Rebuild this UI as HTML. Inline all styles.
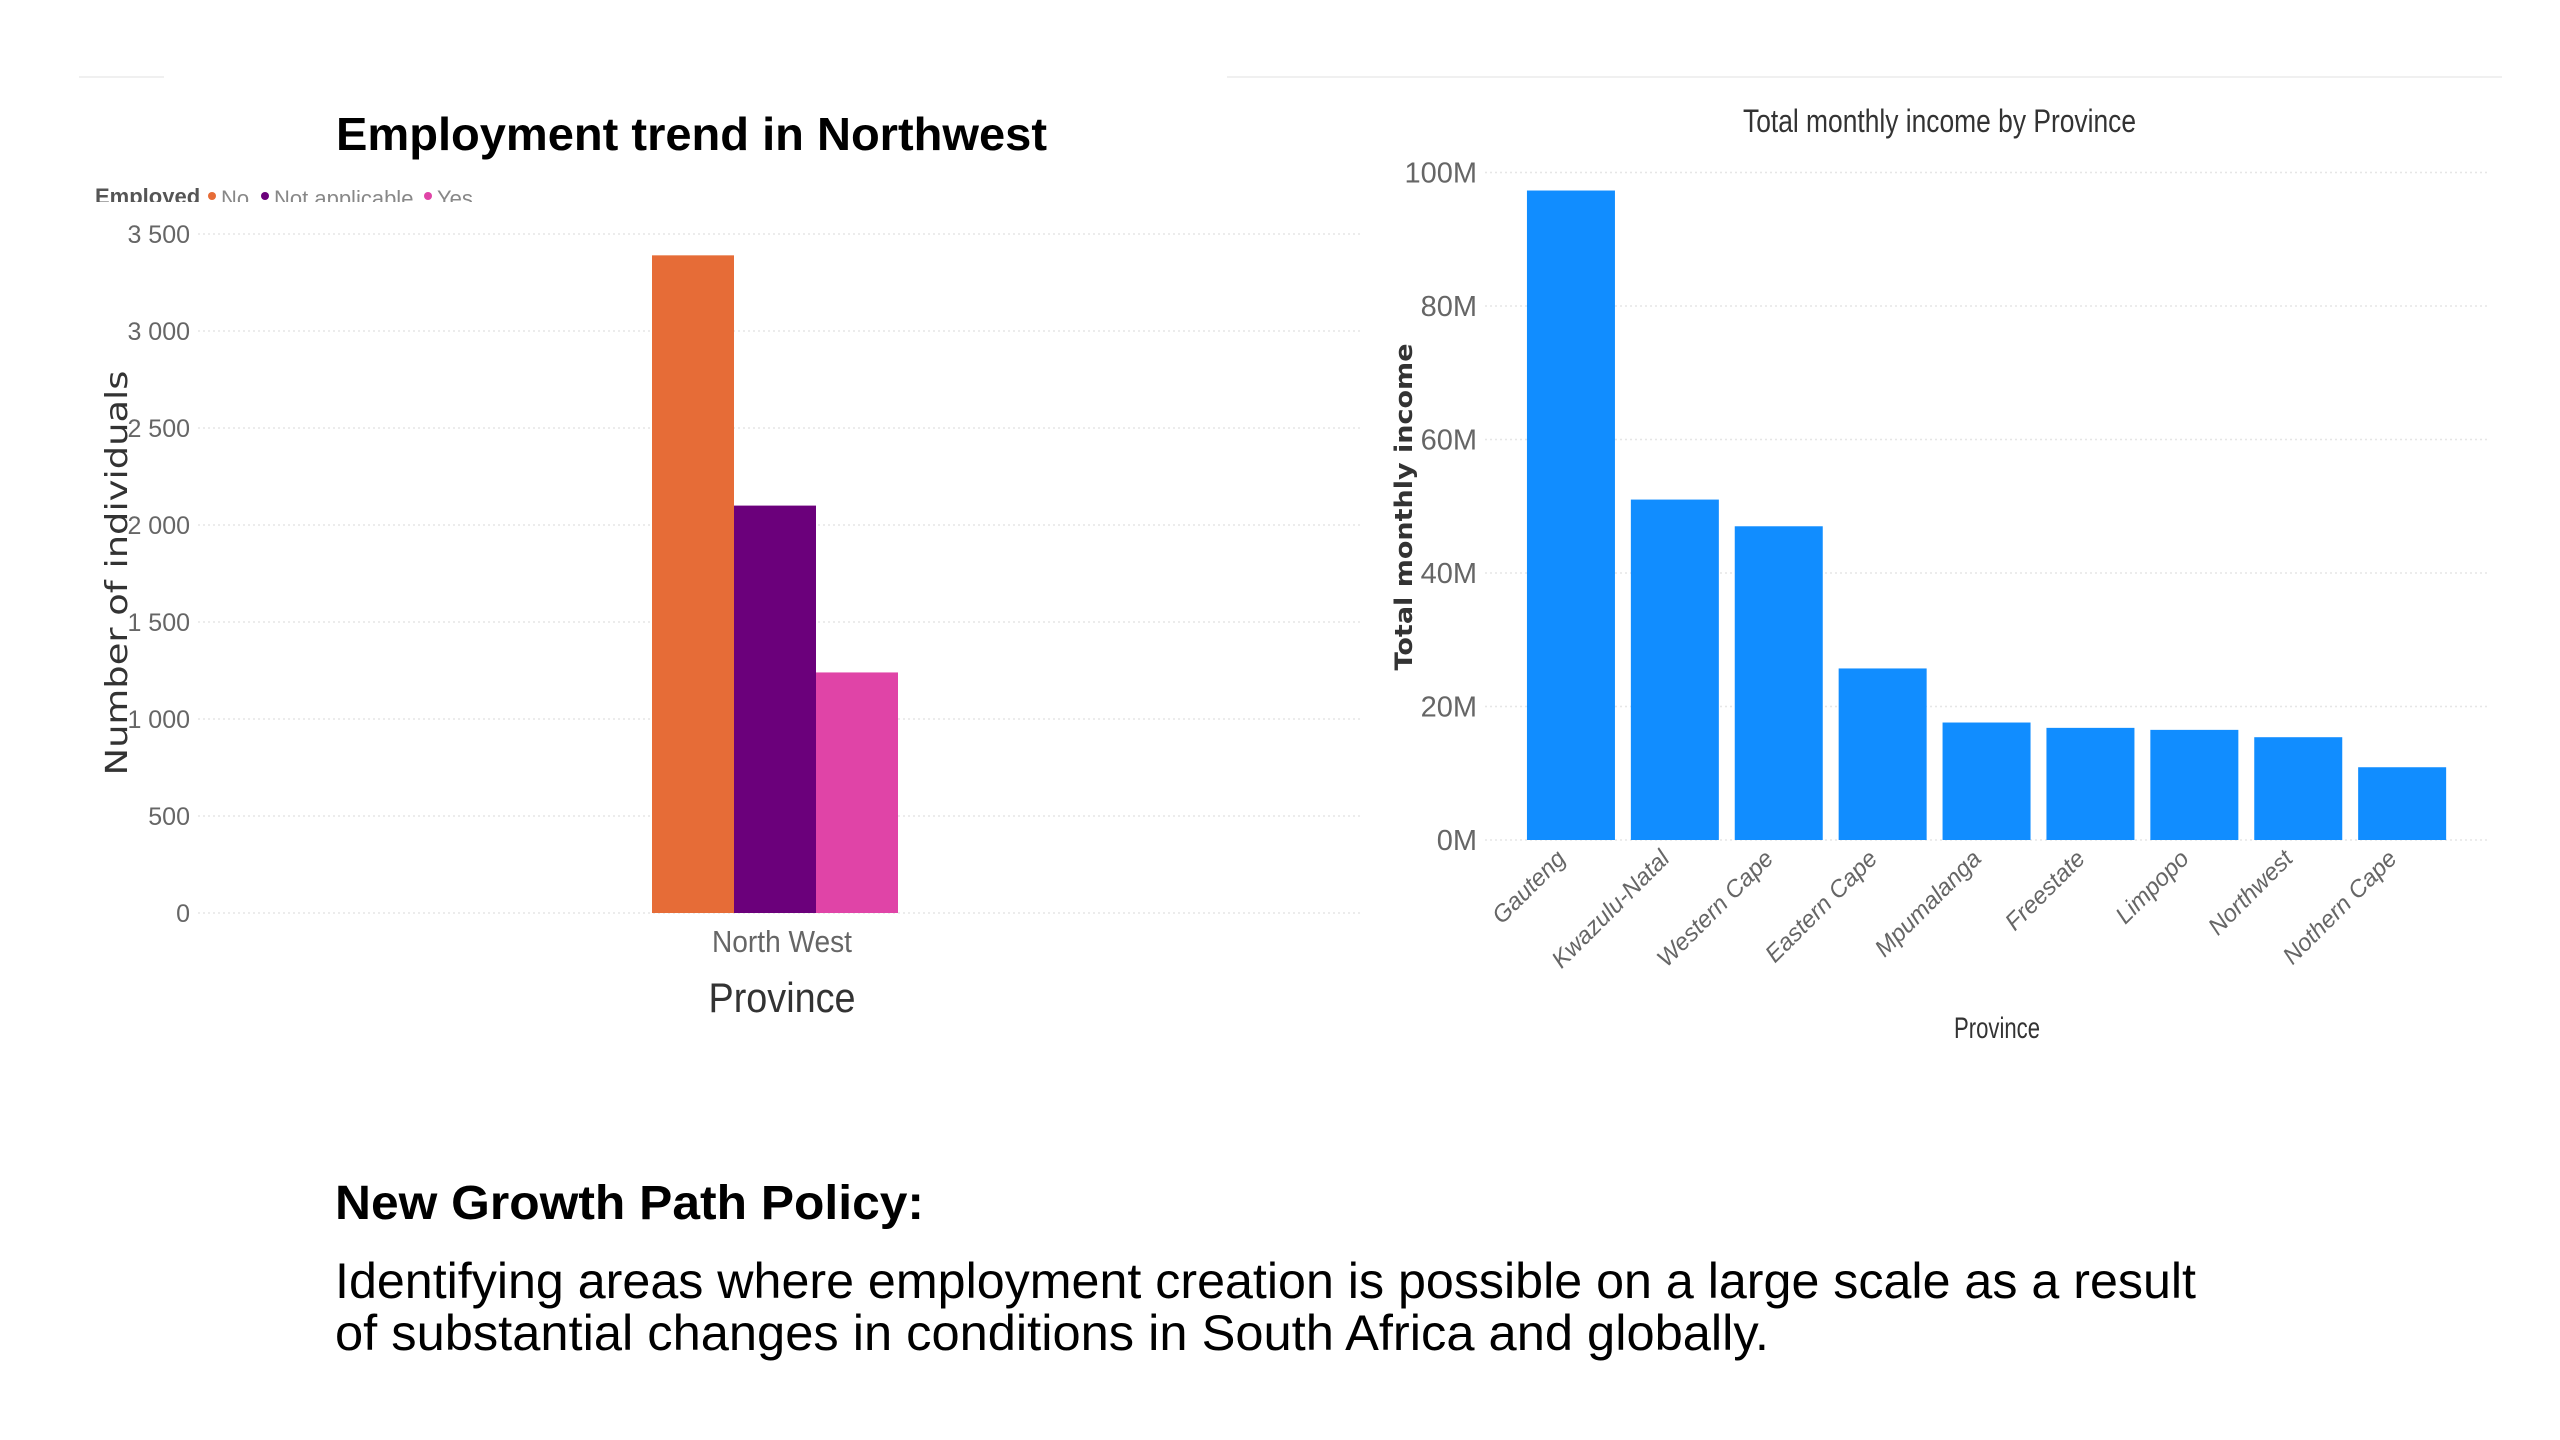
<!DOCTYPE html>
<html><head><meta charset="utf-8"><style>
html,body{margin:0;padding:0;background:#fff;}
svg{display:block;}
.tick{font-family:"Liberation Sans Narrow","Liberation Sans",sans-serif;fill:#666;}
</style></head><body>
<svg id="root" width="2560" height="1440" viewBox="0 0 2560 1440" xmlns="http://www.w3.org/2000/svg">
  <line x1="79" y1="77" x2="164" y2="77" stroke="#f0f0f0" stroke-width="2"/>
  <line x1="1227" y1="77" x2="2502" y2="77" stroke="#f0f0f0" stroke-width="2"/>

  <g id="left-chart">
    <text x="336" y="150" textLength="711" lengthAdjust="spacingAndGlyphs" font-family="Liberation Sans, sans-serif" font-weight="bold" font-size="46" fill="#000">Employment trend in Northwest</text>
    <clipPath id="legclip"><rect x="80" y="170" width="500" height="32"/></clipPath>
    <g clip-path="url(#legclip)">
      <text x="95" y="204" font-family="Liberation Sans, sans-serif" font-weight="bold" font-size="22" fill="#555">Employed</text>
      <circle cx="212" cy="196" r="4" fill="#E66C37"/>
      <text x="221" y="206" font-family="Liberation Sans, sans-serif" font-size="22" fill="#888">No</text>
      <circle cx="265" cy="196" r="4" fill="#6B007B"/>
      <text x="274" y="206" font-family="Liberation Sans, sans-serif" font-size="22" fill="#888">Not applicable</text>
      <circle cx="428" cy="196" r="4" fill="#E044A7"/>
      <text x="437" y="206" font-family="Liberation Sans, sans-serif" font-size="22" fill="#888">Yes</text>
    </g>
    <text transform="translate(127,573) rotate(-90)" text-anchor="middle" textLength="405" lengthAdjust="spacingAndGlyphs" font-family="DejaVu Sans, sans-serif" font-size="30" fill="#333">Number of individuals</text>
    <g id="lgrid"></g>
    <g id="lbars"></g>
    <text x="782" y="952" text-anchor="middle" textLength="140" lengthAdjust="spacingAndGlyphs" class="tick" font-size="31">North West</text>
    <text x="782" y="1012" text-anchor="middle" textLength="147" lengthAdjust="spacingAndGlyphs" font-family="Liberation Sans, sans-serif" font-size="42" fill="#333">Province</text>
  </g>

  <g id="right-chart">
    <text x="1743" y="132" textLength="393" lengthAdjust="spacingAndGlyphs" font-family="Liberation Sans Narrow, Liberation Sans, sans-serif" font-size="32" fill="#333">Total monthly income by Province</text>
    <text transform="translate(1412,507) rotate(-90)" text-anchor="middle" textLength="327" lengthAdjust="spacingAndGlyphs" font-family="DejaVu Sans, sans-serif" font-weight="bold" font-size="24" fill="#333">Total monthly income</text>
    <g id="rgrid"></g>
    <g id="rbars"></g>
    <g id="rlabels"></g>
    <text x="1997" y="1038" text-anchor="middle" textLength="86" lengthAdjust="spacingAndGlyphs" font-family="Liberation Sans Narrow, Liberation Sans, sans-serif" font-size="30" fill="#333">Province</text>
  </g>

  <g>
    <text x="335" y="1219" textLength="589" lengthAdjust="spacingAndGlyphs" font-family="Liberation Sans, sans-serif" font-weight="bold" font-size="48" fill="#000">New Growth Path Policy:</text>
    <text x="335" y="1298" textLength="1861" lengthAdjust="spacingAndGlyphs" font-family="Liberation Sans, sans-serif" font-size="50" fill="#000">Identifying areas where employment creation is possible on a large scale as a result</text>
    <text x="335" y="1350" textLength="1434" lengthAdjust="spacingAndGlyphs" font-family="Liberation Sans, sans-serif" font-size="50" fill="#000">of substantial changes in conditions in South Africa and globally.</text>
  </g>
</svg>
<script>
const empCategories = ["No", "Not applicable", "Yes"];
const empValues = [3390, 2100, 1240];
const empColors = ["#E66C37", "#6B007B", "#E044A7"];
const empTicks = [0, 500, 1000, 1500, 2000, 2500, 3000, 3500];
const empTickLabels = ["0", "500", "1 000", "1 500", "2 000", "2 500", "3 000", "3 500"];

const provinces = ["Gauteng", "Kwazulu-Natal", "Western Cape", "Eastern Cape", "Mpumalanga", "Freestate", "Limpopo", "Northwest", "Nothern Cape"];
const incomeValues = [97.3, 51.0, 47.0, 25.7, 17.6, 16.8, 16.5, 15.4, 10.9];
const incomeTicks = [0, 20, 40, 60, 80, 100];
const incomeTickLabels = ["0M", "20M", "40M", "60M", "80M", "100M"];

const NS = "http://www.w3.org/2000/svg";
function mk(tag, attrs, parent) {
  const e = document.createElementNS(NS, tag);
  for (const k in attrs) e.setAttribute(k, attrs[k]);
  parent.appendChild(e);
  return e;
}
// left chart axes
const lY = v => 913 - v / 3500 * (913 - 234);
const lBarW = 82, lStart = 652;
const lX = i => lStart + i * lBarW;
const lgrid = document.getElementById('lgrid');
empTicks.forEach((t, i) => {
  const ln = mk('line', {x1: 198, x2: 1360, y1: lY(t), y2: lY(t), stroke: '#e6e6e6', 'stroke-width': 1.5, 'stroke-dasharray': '2 3'}, lgrid);
  
  
  const tx = mk('text', {x: 190, y: lY(t) + 9, 'text-anchor': 'end', 'font-size': 25, class: 'tick'}, lgrid);
  tx.textContent = empTickLabels[i];
  
  
});
const lbars = document.getElementById('lbars');
empValues.forEach((v, i) => {
  const r = mk('rect', {x: lX(i), y: lY(v), width: lBarW, height: lY(0) - lY(v), fill: empColors[i]}, lbars);
  
  
});
// right chart axes
const rY = v => 840 - v / 100 * (840 - 172.5);
const rStep = 103.9, rBarW = 88, rStart = 1519;
const rX = i => rStart + i * rStep + (rStep - rBarW) / 2;
const rgrid = document.getElementById('rgrid');
incomeTicks.forEach((t, i) => {
  const ln = mk('line', {x1: 1485, x2: 2490, y1: rY(t), y2: rY(t), stroke: '#e6e6e6', 'stroke-width': 1.5, 'stroke-dasharray': '2 3'}, rgrid);
  
  
  const tx = mk('text', {x: 1477, y: rY(t) + 10, 'text-anchor': 'end', 'font-size': 29, class: 'tick'}, rgrid);
  tx.textContent = incomeTickLabels[i];
  
  
});
const rbars = document.getElementById('rbars');
const rlabels = document.getElementById('rlabels');
incomeValues.forEach((v, i) => {
  const r = mk('rect', {x: rX(i), y: rY(v), width: rBarW, height: rY(0) - rY(v), fill: '#118DFF'}, rbars);
  
  
  const cx = rX(i) + rBarW / 2;
  const tx = mk('text', {transform: 'translate(' + (cx - 4) + ',860) rotate(-45)', 'text-anchor': 'end', 'font-size': 24, 'font-style': 'italic', 'font-family': 'Liberation Sans, sans-serif', fill: '#666'}, rlabels);
  tx.textContent = provinces[i];
  
  
});
</script>
</body></html>
